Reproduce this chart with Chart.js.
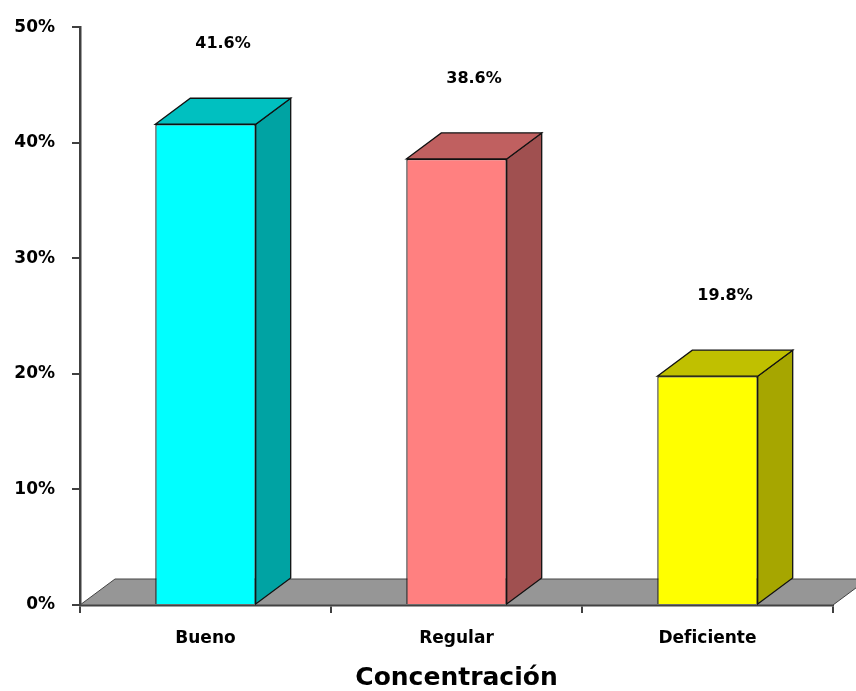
<!DOCTYPE html>
<html lang="es">
<head>
    <meta charset="UTF-8">
    <title>Concentración</title>
    <script src="https://cdn.jsdelivr.net/npm/chart.js"></script>
    <style>
        html, body { margin: 0; padding: 0; background: #fff; }
        .chart-container { width: 856px; height: 691px; }
    </style>
</head>
<body>
    <div class="chart-container">
        <canvas id="concChart"></canvas>
    </div>

    <script>
        const categories = ['Bueno', 'Regular', 'Deficiente'];
        const percentages = [41.6, 38.6, 19.8];
        const frontColors = ['#00FFFF', '#FF8080', '#FFFF00'];
        const topColors = ['#00C0C0', '#C06060', '#C0C000'];
        const sideColors = ['#00A3A3', '#A05050', '#A6A600'];
        const yTicks = [0, 10, 20, 30, 40, 50];

        const DX = 35, DY = 26;
        const tickFont = { family: 'DejaVu Sans', size: 17, weight: 'bold' };

        // floor under the bars + 3d tops/sides + value labels
        const bars3d = {
            id: 'bars3d',
            beforeDatasetsDraw(chart) {
                const ctx = chart.ctx;
                const x = chart.scales.x, y = chart.scales.y;
                const b = y.getPixelForValue(0);
                ctx.save();
                ctx.beginPath();
                ctx.moveTo(x.left, b);
                ctx.lineTo(x.right, b);
                ctx.lineTo(x.right + DX, b - DY);
                ctx.lineTo(x.left + DX, b - DY);
                ctx.closePath();
                ctx.fillStyle = '#969696';
                ctx.fill();
                ctx.strokeStyle = '#444';
                ctx.lineWidth = 1;
                ctx.stroke();
                ctx.restore();
            },
            afterDatasetsDraw(chart) {
                const ctx = chart.ctx;
                const meta = chart.getDatasetMeta(0);
                ctx.save();
                ctx.lineWidth = 1.3;
                ctx.strokeStyle = '#111';
                meta.data.forEach((bar, i) => {
                    const l = bar.x - bar.width / 2, r = bar.x + bar.width / 2;
                    const t = bar.y, base = bar.base;
                    // side
                    ctx.beginPath();
                    ctx.moveTo(r, t);
                    ctx.lineTo(r + DX, t - DY);
                    ctx.lineTo(r + DX, base - DY);
                    ctx.lineTo(r, base);
                    ctx.closePath();
                    ctx.fillStyle = sideColors[i];
                    ctx.fill();
                    ctx.stroke();
                    // top
                    ctx.beginPath();
                    ctx.moveTo(l, t);
                    ctx.lineTo(l + DX, t - DY);
                    ctx.lineTo(r + DX, t - DY);
                    ctx.lineTo(r, t);
                    ctx.closePath();
                    ctx.fillStyle = topColors[i];
                    ctx.fill();
                    ctx.stroke();
                    // value label
                    ctx.fillStyle = '#000';
                    ctx.font = 'bold 16px "DejaVu Sans"';
                    ctx.textAlign = 'center';
                    ctx.textBaseline = 'middle';
                    ctx.fillText(percentages[i].toFixed(1) + '%', bar.x + DX / 2, t - 80);
                });
                ctx.restore();
            }
        };

        new Chart(document.getElementById('concChart'), {
            type: 'bar',
            data: {
                labels: categories,
                datasets: [{
                    data: percentages,
                    backgroundColor: frontColors,
                    borderColor: '#111',
                    borderWidth: 1.3,
                    categoryPercentage: 1,
                    barPercentage: 0.4
                }]
            },
            options: {
                responsive: true,
                maintainAspectRatio: false,
                animation: false,
                layout: { padding: { top: 26, right: 23, left: 0, bottom: 0 } },
                plugins: {
                    legend: { display: false },
                    tooltip: { enabled: false }
                },
                scales: {
                    y: {
                        min: 0,
                        max: 50,
                        afterFit(scale) { scale.width = 80; },
                        afterBuildTicks(scale) { scale.ticks = yTicks.map(v => ({ value: v })); },
                        ticks: {
                            callback: v => v + '%',
                            color: '#000',
                            font: tickFont,
                            padding: 17
                        },
                        grid: { drawOnChartArea: false, tickLength: 8, color: '#404040', lineWidth: 2 },
                        border: { color: '#404040', width: 2.5 }
                    },
                    x: {
                        afterFit(scale) { scale.height = 86; },
                        ticks: { color: '#000', font: tickFont, padding: 15 },
                        grid: { offset: true, drawOnChartArea: false, tickLength: 8, color: '#404040', lineWidth: 2 },
                        border: { color: '#404040', width: 2.5 },
                        title: {
                            display: true,
                            text: 'Concentración',
                            color: '#000',
                            font: { family: 'DejaVu Sans', size: 25, weight: 'bold', lineHeight: 1 },
                            padding: { top: 0, bottom: 0 }
                        }
                    }
                }
            },
            plugins: [bars3d]
        });
    </script>
</body>
</html>
